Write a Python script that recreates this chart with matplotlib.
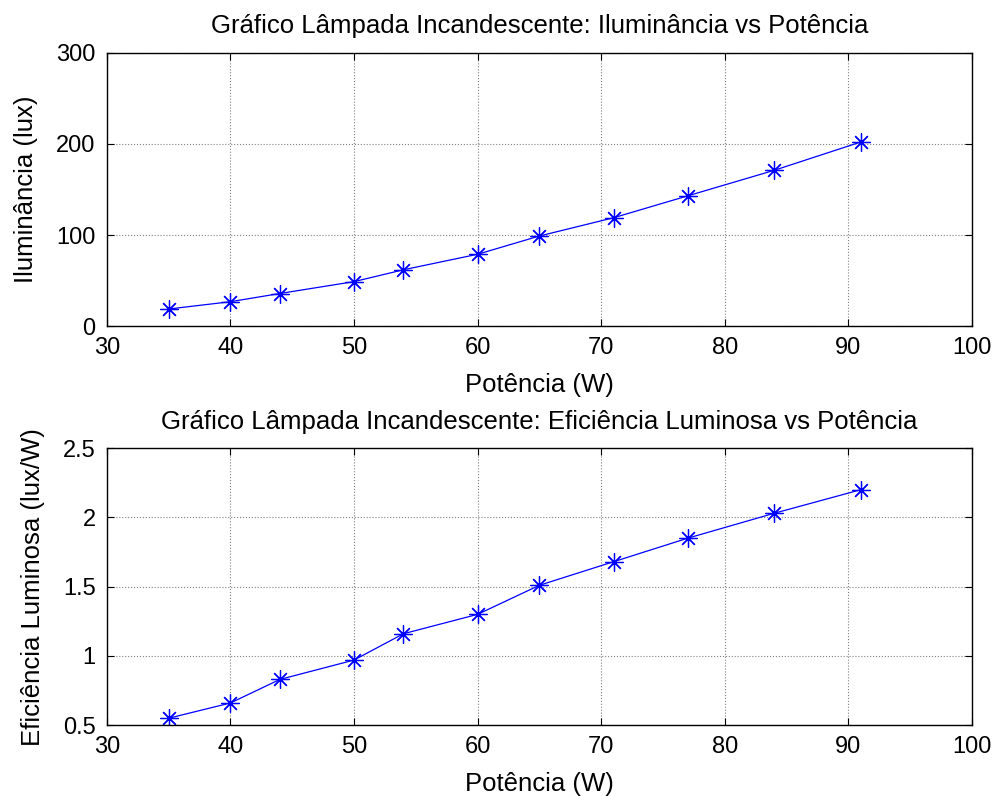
import matplotlib
matplotlib.use("Agg")
import matplotlib.pyplot as plt

plt.rcParams['font.family'] = ['Liberation Sans', 'DejaVu Sans']

potencia = [35, 40, 44, 50, 54, 60, 65, 71, 77, 84, 91]
iluminancia = [19, 27, 36, 49, 62, 79, 99, 119, 143, 171, 202]
eficiencia = [0.55, 0.66, 0.83, 0.97, 1.16, 1.30, 1.51, 1.68, 1.85, 2.03, 2.20]

fs_tick = 17
fs = 18.5

fig = plt.figure(figsize=(9.98, 7.96), dpi=100)
ax1 = fig.add_axes([0.107, 0.590, 0.867, 0.344])
ax2 = fig.add_axes([0.107, 0.089, 0.867, 0.348])


def estilo(ax, ylim, yticks):
    ax.set_xlim(30, 100)
    ax.set_xticks(range(30, 101, 10))
    ax.set_ylim(*ylim)
    ax.set_yticks(yticks)
    ax.grid(True, color='#808080', linestyle=':', linewidth=0.8)
    ax.tick_params(direction='in', top=True, right=True, labelsize=fs_tick, length=5)
    ax.tick_params(axis='x', pad=8)
    ax.tick_params(axis='y', pad=8)
    for s in ax.spines.values():
        s.set_linewidth(1.0)


asterisco = (8, 2, 0)

ax1.plot(potencia, iluminancia, '-', marker=asterisco, color='blue',
         linewidth=0.9, markersize=13, markeredgewidth=0.9)
estilo(ax1, (0, 300), [0, 100, 200, 300])
ax1.set_title('Gráfico Lâmpada Incandescente: Iluminância vs Potência', fontsize=fs, pad=14)
ax1.set_xlabel('Potência (W)', fontsize=fs, labelpad=10)
ax1.set_ylabel('Iluminância (lux)', fontsize=fs, labelpad=13)

ax2.plot(potencia, eficiencia, '-', marker=asterisco, color='blue',
         linewidth=0.9, markersize=13, markeredgewidth=0.9)
estilo(ax2, (0.5, 2.5), [0.5, 1, 1.5, 2, 2.5])
ax2.set_yticklabels(['0.5', '1', '1.5', '2', '2.5'])
ax2.set_title('Gráfico Lâmpada Incandescente: Eficiência Luminosa vs Potência', fontsize=fs, pad=14)
ax2.set_xlabel('Potência (W)', fontsize=fs, labelpad=10)
ax2.set_ylabel('Eficiência Luminosa (lux/W)', fontsize=fs, labelpad=13)

fig.savefig('out.png', dpi=100)
